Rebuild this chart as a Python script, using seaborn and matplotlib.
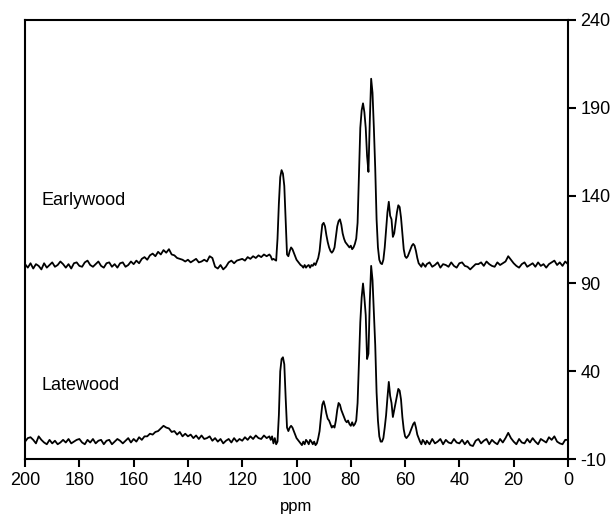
import numpy as np
import pandas as pd
import matplotlib
matplotlib.use("Agg")
import matplotlib.pyplot as plt
import seaborn as sns

# chemical shift grid (ppm): coarse on the baseline, finer through the carbohydrate region
ppm_left = np.arange(200, 110, -1.0)      # 200 .. 111
ppm_mid = np.arange(110, 52, -0.5)        # 110 .. 52.5
ppm_right = np.arange(52, -1, -1.0)       # 52 .. 0

# Earlywood intensities (relative to its own baseline)
ew_left = [
    0.5, -1.5, 1, -2, 0.5, -0.5, -2.5, 1, -1.5, 0,
    1.5, -1, 0, 2, 0.5, -1.5, 0.5, -2, 1, 1.5,
    -0.5, -1, 1.5, 2.5, 0, -1, 0.5, 2, -0.5, -1.5,
    1, 1.5, -1, 0.5, -1.5, 1, 1.5, -1, 0, 2,
    0.5, 2.5, 1, 3.5, 4.5, 3, 5.5, 6.5, 5, 7.5,
    6, 8.5, 7, 9, 6, 5.5, 4, 3.5, 3, 2,
    3, 1.5, 2.5, 3.5, 1.5, 2, 3, 2, 5, 4,
    -1, -2, 0, -2.5, -1, 1.5, 2.5, 1, 2.5, 3,
    3.5, 2.5, 4.5, 3.5, 5, 4, 5.5, 4.5, 6, 5,
]
ew_mid = [
    6, 5, 3, 3.5, 3, 2.5, 15, 35, 50, 54,
    52, 45, 25, 6, 5, 8, 10, 9, 7, 5,
    3, 2, 1, 0, -0.5, -1.5, 0, -1.5, -0.5, 0,
    -1.5, 0, -0.5, 1, 0, 2, 4, 8, 16, 23,
    24, 22, 17, 13, 10, 8, 7, 8, 10, 16,
    22, 25, 26, 23, 18, 15, 13, 12, 11, 10,
    11, 9, 10, 12, 15, 24, 50, 78, 88, 92,
    87, 78, 62, 53, 82, 106, 98, 78, 55, 26,
    10, 3, 1, 0.5, 3, 10, 20, 30, 36, 28,
    26, 16, 18, 24, 30, 34, 33, 27, 18, 9,
    5, 4, 5, 7, 9, 11, 12, 11, 8, 4,
    1, 0, -1, 1, 0, -1,
]
ew_right = [
    0.5, 1.5, -1, 0, 1.5, -1.5, 0.5, 0, -1, 1.5,
    -0.5, -1.5, 1, 1.5, -0.5, -1, -2.5, -1, 0.5, 0.5,
    1.5, -0.5, 2, 0.5, -0.5, -1, 1.5, 0, 1, 2,
    5, 3, 1, -0.5, -1.5, 0.5, 1.5, -1, 0, 1,
    -1, 1.5, -0.5, 0.5, -1.5, 0.5, 1.5, 2.5, 0, 1.5,
    -0.5, 2, 0.5,
]

# Latewood intensities
lw_left = [
    0, 2, 2.5, 1, -1, 3, 1, -0.5, -1.5, 1,
    -1, 0.5, -1.5, -0.5, 1, -0.5, 1.5, -1, 0, 1,
    1.5, -0.5, -1.5, 1, -0.5, 1.5, -1, 0.5, 1, -1.5,
    0.5, 1, -1.5, 0, 1.5, 0.5, -1, 0.5, 2, -0.5,
    1.5, 0, 2.5, 1, 3, 3, 4.5, 4, 5.5, 6,
    7.5, 9, 8, 7.5, 5.5, 6, 4, 5.5, 3, 4.5,
    3, 4, 2, 3.5, 1.5, 3.5, 1.5, 2, 3, 0.5,
    2, 0, 1.5, -1, 0.5, 1.5, -0.5, 2, 0, 1.5,
    0.5, 2.5, 1, 3, 1.5, 3.5, 2, 1.5, 3.5, 2,
]
lw_mid = [
    3, 1, 3, -1, 2, -1.5, 0, 15, 40, 47,
    48, 44, 25, 8, 6, 8, 9, 8, 6, 4,
    2, 1, 0, -1, -2, 0, -1.5, 1, 0, -1.5,
    1, 0, -1.5, 0, -2, -1, 2, 6, 14, 21,
    23, 20, 16, 13, 12, 10, 8, 9, 8, 12,
    18, 22, 21, 18, 16, 14, 12, 11, 12, 10,
    9, 11, 9, 10, 12, 22, 45, 68, 82, 90,
    82, 72, 47, 50, 80, 100, 92, 74, 55, 28,
    12, 3, 0, 0, 2, 8, 15, 25, 34, 26,
    22, 14, 18, 22, 26, 30, 29, 24, 14, 7,
    3, 2, 3, 4, 6, 8, 10, 11, 8, 4,
    2, 0, -1.5, 1, 0, -1.5,
]
lw_right = [
    0.5, -1.5, 1.5, -1, 0, 1.5, -1.5, 1, -0.5, -1,
    1.5, -0.5, -1, 1, -1.5, 0.5, -2, -2.5, 0.5, 1.5,
    -1, 0.5, 1.5, -1.5, 1, -0.5, -1.5, 1.5, -0.5, 2,
    5, 2, 0, -1.5, 1.5, -0.5, -1, 1.5, -0.5, 2,
    0, -1.5, 1.5, 0.5, -0.5, 2.5, 1, 3, 0, -1,
    -1.5, 1, 1,
]

earlywood_offset = 100.5

ppm = np.concatenate([ppm_left, ppm_mid, ppm_right])
earlywood = np.array(ew_left + ew_mid + ew_right) + earlywood_offset
latewood = np.array(lw_left + lw_mid + lw_right)

df = pd.DataFrame({"ppm": ppm, "Earlywood": earlywood, "Latewood": latewood})

sns.set_style("ticks")
plt.rcParams["font.family"] = ["Liberation Sans", "DejaVu Sans"]
plt.rcParams["axes.unicode_minus"] = False
plt.rcParams["text.color"] = "black"
plt.rcParams["axes.labelcolor"] = "black"

fig = plt.figure(figsize=(6.12, 5.23), dpi=100)
ax = fig.add_axes([0.041, 0.122, 0.887, 0.840])

sns.lineplot(data=df, x="ppm", y="Earlywood", color="black", linewidth=1.3,
             estimator=None, ax=ax)
sns.lineplot(data=df, x="ppm", y="Latewood", color="black", linewidth=1.3,
             estimator=None, ax=ax)

ax.set_xlim(200, 0)
ax.set_ylim(-10, 240)
ax.set_xticks(np.arange(200, -1, -20))
ax.set_yticks([-10, 40, 90, 140, 190, 240])
ax.yaxis.tick_right()
ax.yaxis.set_label_position("right")
ax.set_ylabel("")
ax.set_xlabel("ppm", fontsize=12, labelpad=7, color="black")

for side in ["left", "right", "top", "bottom"]:
    ax.spines[side].set_visible(True)
    ax.spines[side].set_linewidth(1.5)
    ax.spines[side].set_color("black")

ax.tick_params(axis="both", direction="out", length=6, width=1.5,
               labelsize=13, colors="black")
ax.tick_params(axis="y", pad=3)

ax.text(194, 137, "Earlywood", fontsize=13, va="center", ha="left", color="black")
ax.text(194, 32, "Latewood", fontsize=13, va="center", ha="left", color="black")

fig.savefig("out.png", dpi=100)
